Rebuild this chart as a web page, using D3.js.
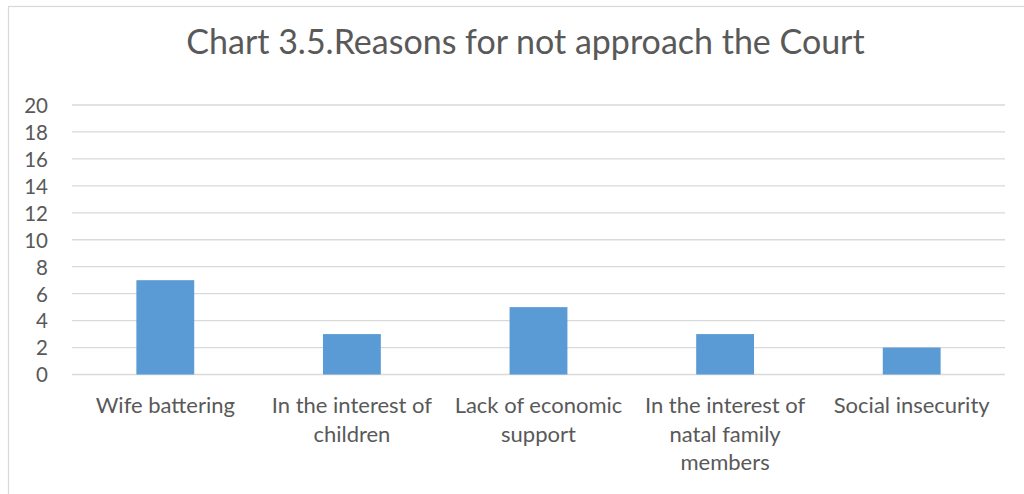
<!DOCTYPE html>
<html>
<head>
<meta charset="utf-8">
<script src="https://cdn.jsdelivr.net/npm/d3@7"></script>
<style>
  html, body { margin: 0; padding: 0; background: #fff; }
  svg { display: block; }
  text { font-family: Lato, "Open Sans", sans-serif; fill: #595959; }
</style>
</head>
<body>
<svg id="chart" width="1024" height="494"></svg>
<script>
// Chart content
const title = "Chart 3.5.Reasons for not approach the Court";
const categories = [
  ["Wife battering"],
  ["In the interest of", "children"],
  ["Lack of economic", "support"],
  ["In the interest of", "natal family", "members"],
  ["Social insecurity"]
];
const values = [7, 3, 5, 3, 2];
const yTicks = [0, 2, 4, 6, 8, 10, 12, 14, 16, 18, 20];

const svg = d3.select("#chart");
const margin = { left: 72, right: 1005, top: 105, bottom: 374.5 };

// chart frame
svg.append("rect")
  .attr("x", 8.5).attr("y", 6.5)
  .attr("width", 1040).attr("height", 500)
  .attr("fill", "none").attr("stroke", "#d9d9d9").attr("stroke-width", 1.2);

const x = d3.scaleBand()
  .domain(d3.range(categories.length))
  .range([margin.left, margin.right])
  .padding(0);

const y = d3.scaleLinear().domain([0, 20]).range([margin.bottom, margin.top]);

// gridlines
svg.append("g")
  .selectAll("line")
  .data(yTicks)
  .join("line")
  .attr("x1", margin.left).attr("x2", margin.right)
  .attr("y1", d => y(d)).attr("y2", d => y(d))
  .attr("stroke", "#d9d9d9").attr("stroke-width", 1.3);

// y axis labels
const yAxis = d3.axisLeft(y).tickValues(yTicks).tickSize(0).tickPadding(0);
const gy = svg.append("g").attr("transform", "translate(48,0)").call(yAxis);
gy.select(".domain").remove();
gy.selectAll("text")
  .attr("font-size", 20.5)
  .attr("dy", "0.36em")
  .style("font-family", "Lato, 'Open Sans', sans-serif")
  .attr("fill", "#595959");

// bars
const barW = x.bandwidth() * 0.31;
svg.append("g")
  .selectAll("rect")
  .data(values)
  .join("rect")
  .attr("x", (d, i) => x(i) + x.bandwidth() / 2 - barW / 2)
  .attr("width", barW)
  .attr("y", d => y(d))
  .attr("height", d => y(0) - y(d))
  .attr("fill", "#5b9bd5");

// category labels
const xl = svg.append("g");
categories.forEach((lines, i) => {
  const t = xl.append("text")
    .attr("text-anchor", "middle")
    .attr("font-size", 22);
  lines.forEach((ln, j) => {
    t.append("tspan")
      .attr("x", x(i) + x.bandwidth() / 2)
      .attr("y", 413 + j * 28.5)
      .text(ln);
  });
});

// title
svg.append("text")
  .attr("x", 525.5).attr("y", 54)
  .attr("text-anchor", "middle")
  .attr("font-size", 34)
  .text(title);
</script>
</body>
</html>
